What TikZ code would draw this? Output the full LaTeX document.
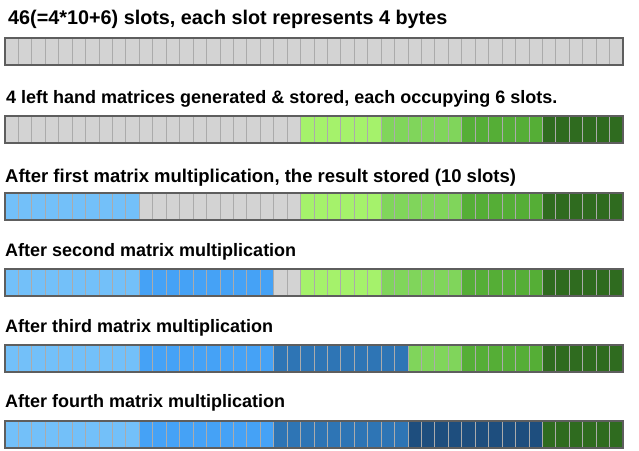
\documentclass[tikz,border=0pt]{standalone}
\usepackage{fontspec}
\setmainfont{Liberation Sans}
\definecolor{slotgray}{HTML}{D3D3D3}
\definecolor{divgray}{HTML}{ABABAB}
\definecolor{bordergray}{HTML}{5E5E5E}
\definecolor{gA}{HTML}{A5F26B}
\definecolor{gB}{HTML}{80D55B}
\definecolor{gC}{HTML}{55AE36}
\definecolor{gD}{HTML}{2F6B1F}
\definecolor{bA}{HTML}{73C0F9}
\definecolor{bB}{HTML}{45A2F6}
\definecolor{bC}{HTML}{2E75B5}
\definecolor{bD}{HTML}{1E4E7E}
\tikzset{
  title/.style={anchor=base west,inner sep=0pt,font=\bfseries\fontsize{18}{21}\selectfont},
  divider/.style={draw=divgray,line width=0.9pt},
  barframe/.style={draw=bordergray,line width=1.5pt}
}
\newcommand\slotw{13.4348}
% #1 = top y, #2 = segment list start/count/colour
\newcommand\slotbar[2]{%
  \foreach \s/\n/\c in {#2}{%
    \fill[\c] ({5+\s*\slotw},#1) rectangle ({5+(\s+\n)*\slotw},#1+27);
  }
  \foreach \i in {1,...,45}{%
    \draw[divider] ({5+\i*\slotw},#1) -- ({5+\i*\slotw},#1+27);
  }
  \draw[barframe] (5,#1) rectangle (623,#1+27);
}
\begin{document}
\begin{tikzpicture}[x=1pt,y=-1pt]
\useasboundingbox (0,0) rectangle (639,450);
\fill[white] (0,0) rectangle (639,450);

\node[title,font=\bfseries\fontsize{19.8}{23}\selectfont] (t1) at (8,24) {46(=4*10+6) slots, each slot represents 4 bytes};
\slotbar{38}{0/46/slotgray}

\node[title] (t2) at (6,103) {4 left hand matrices generated \& stored, each occupying 6 slots.};
\slotbar{116}{0/22/slotgray,22/6/gA,28/6/gB,34/6/gC,40/6/gD}

\node[title,font=\bfseries\fontsize{18.5}{21}\selectfont] (t3) at (5,182) {After first matrix multiplication, the result stored (10 slots)};
\slotbar{193}{0/10/bA,10/12/slotgray,22/6/gA,28/6/gB,34/6/gC,40/6/gD}

\node[title] (t4) at (5,256) {After second matrix multiplication};
\slotbar{269}{0/10/bA,10/10/bB,20/2/slotgray,22/6/gA,28/6/gB,34/6/gC,40/6/gD}

\node[title] (t5) at (5,332) {After third matrix multiplication};
\slotbar{345}{0/10/bA,10/10/bB,20/10/bC,30/4/gB,34/6/gC,40/6/gD}

\node[title] (t6) at (5,407) {After fourth matrix multiplication};
\slotbar{421}{0/10/bA,10/10/bB,20/10/bC,30/10/bD,40/6/gD}
\end{tikzpicture}
\end{document}
